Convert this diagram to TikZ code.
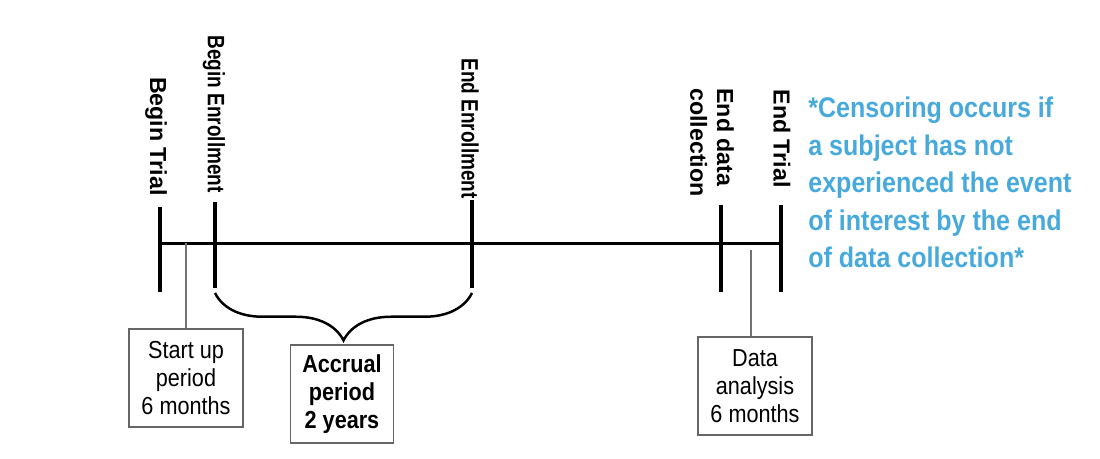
\documentclass[tikz,border=0pt]{standalone}
\usepackage{fontspec}
\setmainfont{Liberation Sans}
\newfontfamily\boxfont[FakeStretch=0.88]{Liberation Sans}
\newfontfamily\narrowbold[FakeStretch=0.8]{Liberation Sans Bold}
\usetikzlibrary{decorations.pathreplacing}
\definecolor{noteblue}{RGB}{72,170,220}
\begin{document}
\begin{tikzpicture}[x=0.02cm, y=-0.02cm,
  timeline/.style={line width=1.7pt},
  tickbar/.style={line width=2pt},
  lead/.style={draw=black!55, line width=0.6pt},
  periodbox/.style={draw=black!60, line width=0.7pt, minimum width=2.28cm, minimum height=1.96cm, align=center, inner sep=2pt, font=\boxfont\fontsize{14}{15.8}\selectfont},
  eventlbl/.style={rotate=-90, anchor=east, inner sep=0pt, font=\bfseries\fontsize{13.2}{15.3}\selectfont},
  enrollbl/.style={eventlbl, font=\narrowbold\fontsize{13.5}{15}\selectfont}]
\useasboundingbox (0,0) rectangle (1100,458);
% time points on the axis
\coordinate (tbeg) at (160,243);
\coordinate (ebeg) at (215,243);
\coordinate (eend) at (472,243);
\coordinate (dend) at (721,243);
\coordinate (tend) at (781,243);
\draw[timeline] (tbeg) -- (tend);
\draw[tickbar] (tbeg) ++(0,-36) -- ++(0,85);
\draw[tickbar] (ebeg) ++(0,-41) -- ++(0,86);
\draw[tickbar] (eend) ++(0,-43) -- ++(0,88);
\draw[tickbar] (dend) ++(0,-38) -- ++(0,87);
\draw[tickbar] (tend) ++(0,-38) -- ++(0,87);
% rotated labels
\node[eventlbl] (lbtrial) at (156,196) {Begin Trial};
\node[enrollbl] (lbenr) at (214,193) {Begin Enrollment};
\node[enrollbl] (leenr) at (470,199) {End Enrollment};
\node[eventlbl, align=left] (ldata) at (712,197) {End data\\collection};
\node[eventlbl] (ltrial) at (782,188) {End Trial};
% period boxes
\node[periodbox] (startup) at (186,378) {Start up\\period\\6 months};
\node[periodbox, minimum width=2.06cm, font=\boxfont\bfseries\fontsize{14}{15.8}\selectfont] (accrual) at (342,394) {Accrual\\period\\2 years};
\node[periodbox] (analysis) at (755,386) {Data\\analysis\\6 months};
\draw[lead] (startup.north) -- (startup.north |- tbeg);
\coordinate (dgap) at (751,250);
\draw[lead] (analysis.north -| dgap) -- (dgap);
% accrual brace
\coordinate (bl) at (215,293);
\coordinate (br) at (472,293);
\draw[line width=1.4pt, decorate, decoration={brace, mirror, amplitude=27pt}] (bl) -- (br);
% censoring note
\node[anchor=north west, inner sep=0pt, align=left, text=noteblue, font=\boxfont\bfseries\fontsize{16.2}{21.3}\selectfont] (censor) at (808,97) {*Censoring occurs if\\a subject has not\\experienced the event\\of interest by the end\\of data collection*};
\end{tikzpicture}
\end{document}
